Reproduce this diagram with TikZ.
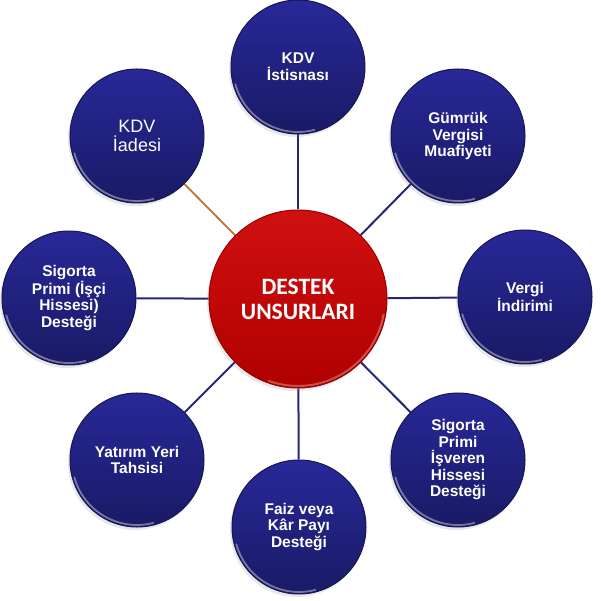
\documentclass[tikz,border=0pt]{standalone}
\usepackage{fontspec}
\setmainfont{Liberation Sans}
\newfontfamily\hubfont{Carlito}
\usetikzlibrary{backgrounds,shadows}

\definecolor{navytop}{RGB}{40,40,152}
\definecolor{navybot}{RGB}{26,26,102}
\definecolor{navyrim}{RGB}{22,22,84}
\definecolor{linknavy}{RGB}{36,38,120}
\definecolor{linkorange}{RGB}{192,112,52}
\definecolor{redtop}{RGB}{208,16,16}
\definecolor{redbot}{RGB}{176,0,0}
\definecolor{redrim}{RGB}{150,0,0}

\tikzset{
	leaf/.style={circle, minimum size=134pt, inner sep=0pt, align=center, text=white,
		font=\fontsize{15.5}{16.5}\selectfont\bfseries,
		top color=navytop, bottom color=navybot, draw=navyrim, line width=1pt,
		drop shadow={opacity=.18, shadow xshift=-2pt, shadow yshift=-3pt},
		path picture={\draw[white, opacity=.4, line width=1.8pt]
			([shift={(195:65pt)}]path picture bounding box.center)
			arc[start angle=195, end angle=285, radius=65pt];}},
	hub/.style={circle, minimum size=178pt, inner sep=0pt, align=center, text=white,
		font=\hubfont\fontsize{23.5}{25}\selectfont\bfseries,
		top color=redtop, bottom color=redbot, draw=redrim, line width=1pt,
		drop shadow={opacity=.18, shadow xshift=-2pt, shadow yshift=-3pt},
		path picture={\draw[white, opacity=.3, line width=2pt]
			([shift={(250:87pt)}]path picture bounding box.center)
			arc[start angle=250, end angle=350, radius=87pt];}},
	link/.style={linknavy, line width=2pt}
}

\begin{document}
\begin{tikzpicture}[x=1pt,y=1pt]
	\useasboundingbox (-298,-302) rectangle (302,299);
	\node[hub] (destek) at (0,0) {DESTEK\\UNSURLARI};
	\node[leaf] (kdvIst) at (0,232) {KDV\\İstisnası};
	\node[leaf] (gumruk) at (160,163) {Gümrük\\Vergisi\\Muafiyeti};
	\node[leaf] (vergi) at (227,2) {Vergi\\İndirimi};
	\node[leaf] (isveren) at (160,-161) {Sigorta\\Primi\\İşveren\\Hissesi\\Desteği};
	\node[leaf] (faiz) at (1,-228) {Faiz veya\\Kâr Payı\\Desteği};
	\node[leaf] (yatirim) at (-161,-161) {Yatırım Yeri\\Tahsisi};
	\node[leaf] (isci) at (-229,1) {Sigorta\\Primi (İşçi\\Hissesi)\\Desteği};
	\node[leaf, font=\fontsize{18}{19.5}\selectfont] (kdvIade) at (-161,163) {KDV\\İadesi};

	\begin{scope}[on background layer]
		\draw[link] (destek) -- (kdvIst);
		\draw[link] (destek) -- (gumruk);
		\draw[link] (destek) -- (vergi);
		\draw[link] (destek) -- (isveren);
		\draw[link] (destek) -- (faiz);
		\draw[link] (destek) -- (yatirim);
		\draw[link] (destek) -- (isci);
		\draw[link, linkorange, line width=1.8pt] (destek) -- (kdvIade);
	\end{scope}
\end{tikzpicture}
\end{document}
